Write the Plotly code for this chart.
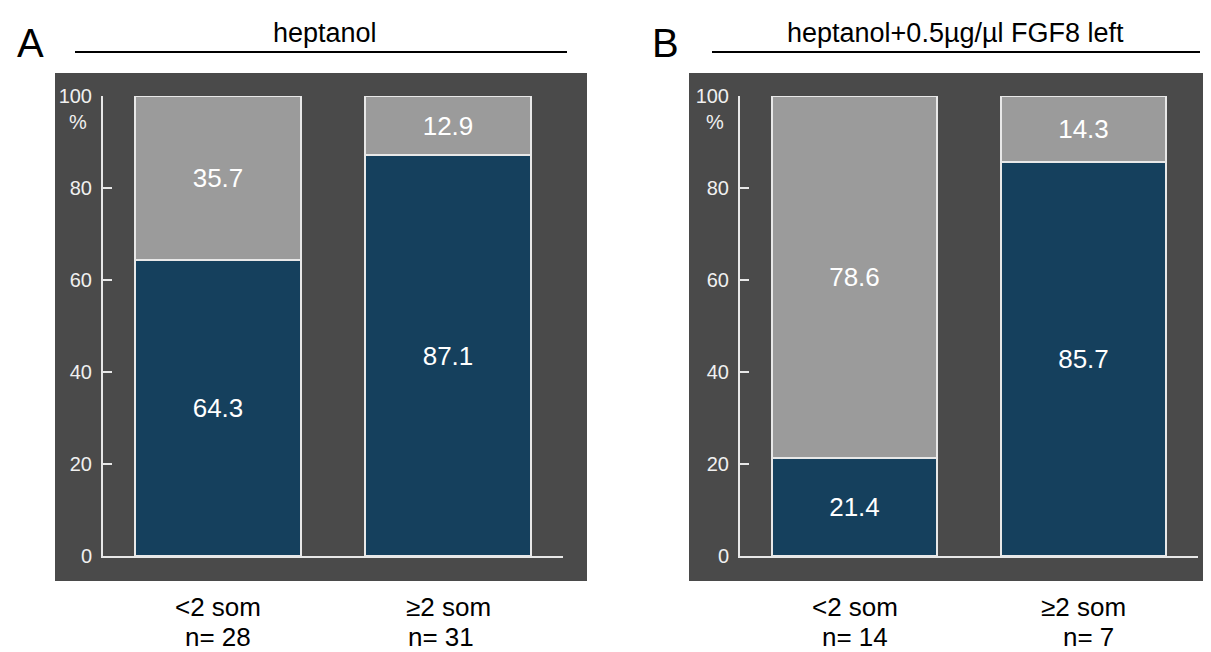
import plotly.graph_objects as go

# ---- data ----
categories = ["<2 som", "\u22652 som"]
panel_titles = ["heptanol", "heptanol+0.5\u00b5g/\u00b5l FGF8 left"]
panel_letters = ["A", "B"]
n_labels_A = ["n= 28", "n= 31"]
n_labels_B = ["n= 14", "n= 7"]
blue_A = [64.3, 87.1]
gray_A = [35.7, 12.9]
blue_B = [21.4, 85.7]
gray_B = [78.6, 14.3]
y_ticks = [0, 20, 40, 60, 80, 100]

# page is 1211x652; the html body has an 8px margin
OFF = 8
W, H = 1211, 652 - OFF
BLUE = "#15405d"
GRAY = "#9b9b9b"
PANEL = "#4a4a4a"
LINE = "#e8e8e8"
font = "Liberation Sans, Arial"

def px_x(p):
    return (p - OFF) / W

def px_y(p):
    return 1 - (p - OFF) / H

fig = go.Figure()

panels = [
    dict(blue=blue_A, gray=gray_A, n=n_labels_A, nshift=[0, -7], xa="x", ya="y", dom=(103, 563), bg=(55, 587)),
    dict(blue=blue_B, gray=gray_B, n=n_labels_B, nshift=[0, 5], xa="x2", ya="y2", dom=(740, 1198), bg=(689, 1219)),
]
xpos = [0, 1]

for i, p in enumerate(panels):
    for vals, col in ((p["blue"], BLUE), (p["gray"], GRAY)):
        fig.add_trace(go.Bar(
            x=xpos, y=vals, xaxis=p["xa"], yaxis=p["ya"], width=0.72,
            marker=dict(color=col, line=dict(color=LINE, width=2)),
            text=[f"{v:.1f}" for v in vals], textposition="inside",
            insidetextanchor="middle", textfont=dict(color="white", size=26, family=font),
            showlegend=False, hoverinfo="skip"))

ydom = [px_y(556), px_y(96)]
axis_common_y = dict(range=[0, 100], tickvals=y_ticks, ticks="inside", ticklen=9, tickwidth=2,
                     tickcolor=LINE, showline=True, linecolor=LINE, linewidth=2, showgrid=False,
                     zeroline=False, tickfont=dict(color="#f0f0f0", size=20, family=font),
                     ticklabelstandoff=5, fixedrange=True, automargin=False)
axis_common_x = dict(range=[-0.5, 1.5], showticklabels=False, ticks="", showline=True, linecolor=LINE,
                     linewidth=2, showgrid=False, zeroline=False, fixedrange=True, automargin=False)

fig.update_layout(
    width=W, height=H, margin=dict(l=0, r=0, t=0, b=0, pad=0, autoexpand=False),
    paper_bgcolor="white", plot_bgcolor="rgba(0,0,0,0)", barmode="stack", bargap=0,
    xaxis=dict(domain=[px_x(panels[0]["dom"][0]), px_x(panels[0]["dom"][1])], anchor="y", **axis_common_x),
    yaxis=dict(domain=ydom, anchor="x", **axis_common_y),
    xaxis2=dict(domain=[px_x(panels[1]["dom"][0]), px_x(panels[1]["dom"][1])], anchor="y2", **axis_common_x),
    yaxis2=dict(domain=ydom, anchor="x2", **axis_common_y),
    uniformtext=dict(minsize=26, mode="show"),
)

shapes = []
annotations = []
title_cfg = [
    dict(line=(75, 567), tx=325, lx=30),
    dict(line=(712, 1200), tx=955, lx=665),
]
for i, p in enumerate(panels):
    shapes.append(dict(type="rect", xref="paper", yref="paper", layer="below",
                       x0=px_x(p["bg"][0]), x1=min(1, px_x(p["bg"][1])), y0=px_y(581), y1=px_y(73),
                       fillcolor=PANEL, line=dict(width=0)))
    tc = title_cfg[i]
    shapes.append(dict(type="line", xref="paper", yref="paper",
                       x0=px_x(tc["line"][0]), x1=px_x(tc["line"][1]), y0=px_y(52), y1=px_y(52),
                       line=dict(color="black", width=2)))
    annotations.append(dict(xref="paper", yref="paper", x=px_x(tc["tx"]), y=px_y(33),
                            text=panel_titles[i], showarrow=False, xanchor="center", yanchor="middle",
                            font=dict(size=27, color="black", family=font)))
    annotations.append(dict(xref="paper", yref="paper", x=px_x(tc["lx"]), y=px_y(43),
                            text=panel_letters[i], showarrow=False, xanchor="center", yanchor="middle",
                            font=dict(size=40, color="black", family=font)))
    annotations.append(dict(xref="paper", yref="paper", x=px_x(p["dom"][0] - 14), y=px_y(122),
                            text="%", showarrow=False, xanchor="right", yanchor="middle",
                            font=dict(size=20, color="#f0f0f0", family=font)))
    for j, c in enumerate(categories):
        annotations.append(dict(xref=p["xa"], yref="paper", x=xpos[j], y=px_y(607),
                                text=c, showarrow=False, xanchor="center", yanchor="middle",
                                font=dict(size=26, color="black", family=font)))
        annotations.append(dict(xref=p["xa"], yref="paper", x=xpos[j], y=px_y(637),
                                text=p["n"][j], showarrow=False, xanchor="center", yanchor="middle",
                                xshift=p["nshift"][j],
                                font=dict(size=26, color="black", family=font)))

fig.update_layout(shapes=shapes, annotations=annotations)
fig.write_html("out.html", post_script="document.body.style.overflow='hidden';")
